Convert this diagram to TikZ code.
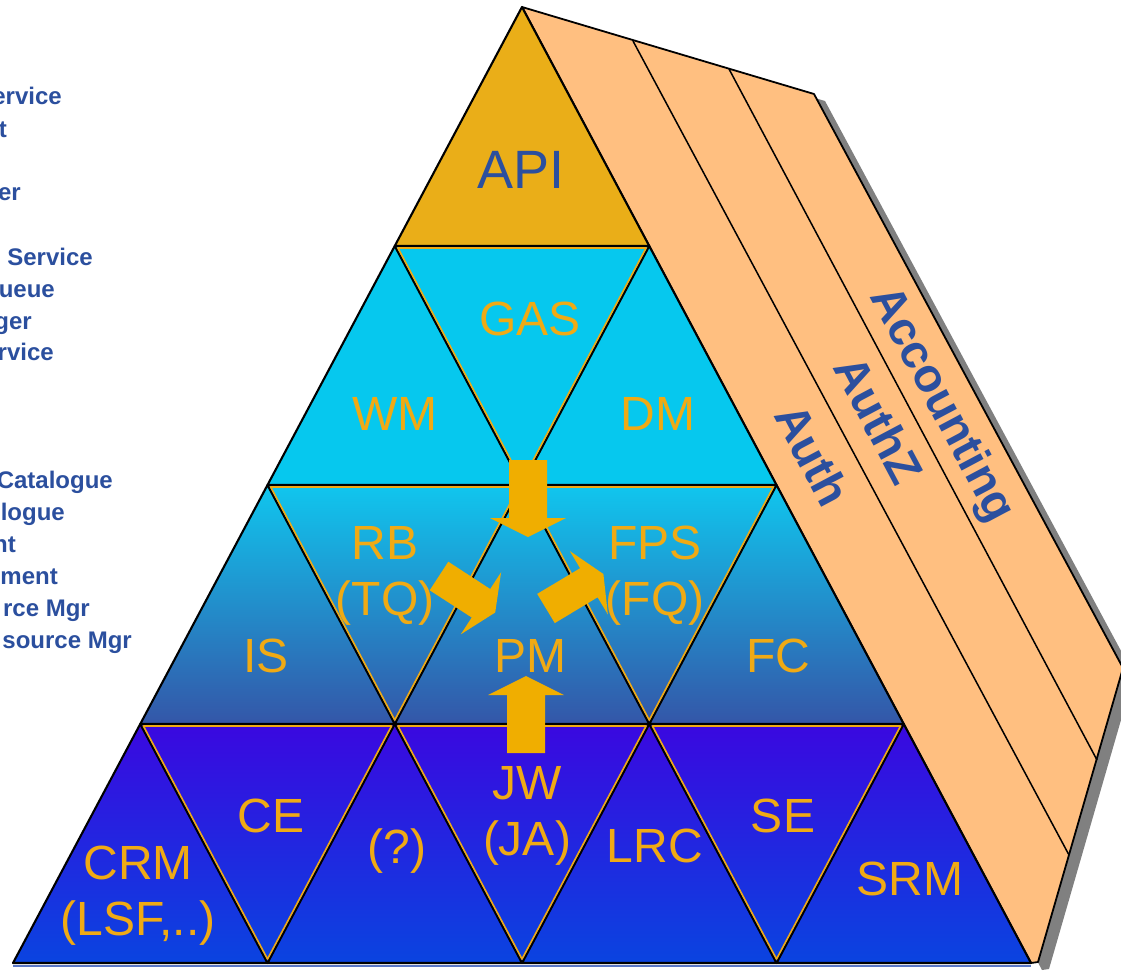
\documentclass[tikz,border=0pt]{standalone}
\usepackage{fontspec}
\setmainfont{Liberation Sans}
\usetikzlibrary{calc}
\definecolor{legblue}{HTML}{2B4F9E}
\definecolor{lblorange}{HTML}{F0AA14}
\definecolor{arroworange}{HTML}{F0AE00}
\definecolor{apifill}{HTML}{EAAE18}
\definecolor{cyanrow}{HTML}{06C8EE}
\definecolor{rowthreetop}{HTML}{10C6EE}
\definecolor{rowthreebot}{HTML}{3456A8}
\definecolor{rowfourtop}{HTML}{3A08E0}
\definecolor{rowfourbot}{HTML}{0A44E0}
\definecolor{peach}{HTML}{FFBF80}
\definecolor{shadowgray}{HTML}{808080}
\definecolor{baseblue}{HTML}{5A78C8}
\begin{document}
\begin{tikzpicture}[x=1pt,y=-1pt,
  lbl/.style={text=lblorange, font=\fontsize{48}{56}\selectfont, align=center, inner sep=0pt},
  lblbase/.style={lbl, anchor=base},
  leg/.style={text=legblue, font=\bfseries\fontsize{24}{28}\selectfont, anchor=base east, inner sep=0pt},
  slabtxt/.style={text=legblue, font=\bfseries\fontsize{47}{50}\selectfont, rotate=-62, inner sep=0pt},
  upedge/.style={draw=black, line width=2.1pt, line join=round},
  downedge/.style={draw=lblorange, line width=1.6pt, line join=round},
  slabedge/.style={draw=black, line width=1.8pt, line join=round},
  blockarrow/.style={fill=arroworange, draw=none},
]
\useasboundingbox (0,0) rectangle (1121,975);
\clip (0,0) rectangle (1121,975);

% grid points of the pyramid
\foreach \k in {0,...,4}{
  \foreach \i in {0,...,\k}{
    \coordinate (v-\k-\i) at ({522+127.25*(2*\i-\k)},{7+239*\k});
  }
}

% side slab: shadow, fill, dividers
\coordinate (s1) at (633,41);
\coordinate (s2) at (729,69);
\coordinate (s3) at (814,94);
\coordinate (s4) at (1123,668);
\coordinate (s5) at (1038,962);
\coordinate (d1) at (1069,855);
\coordinate (d2) at (1097,760);
\fill[shadowgray] ($(v-0-0)+(11,7)$) -- ($(s3)+(11,7)$) -- ($(s4)+(11,7)$) -- ($(s5)+(11,7)$) -- ($(v-4-4)+(11,7)$) -- cycle;
\path[fill=peach, slabedge] (v-0-0) -- (s3) -- (s4) -- (s5) -- (v-4-4) -- cycle;
\draw[slabedge, line width=1.5pt] (s1) -- (d1);
\draw[slabedge, line width=1.5pt] (s2) -- (d2);

\node[slabtxt] (acc) at (941,405) {Accounting};
\node[slabtxt] (authz) at (879,420) {AuthZ};
\node[slabtxt] (auth) at (813,455) {Auth};

% row fills
\fill[apifill] (v-0-0) -- (v-1-0) -- (v-1-1) -- cycle;
\fill[cyanrow] (v-1-0) -- (v-1-1) -- (v-2-2) -- (v-2-0) -- cycle;
\shade[top color=rowthreetop, bottom color=rowthreebot] (v-2-0) -- (v-2-2) -- (v-3-3) -- (v-3-0) -- cycle;
\shade[top color=rowfourtop, bottom color=rowfourbot] (v-3-0) -- (v-3-3) -- (v-4-4) -- (v-4-0) -- cycle;
\draw[baseblue, line width=1.8pt] ($(v-4-0)+(0,2.8)$) -- ($(v-4-4)+(0,2.8)$);

% up triangles: black outlines
\foreach \k [evaluate=\k as \km using int(\k-1)] in {1,...,4}{
  \foreach \i [evaluate=\i as \ip using int(\i+1)] in {0,...,\km}{
    \draw[upedge] (v-\km-\i) -- (v-\k-\i) -- (v-\k-\ip) -- cycle;
  }
}
% down triangles: orange outlines, slightly inset
\foreach \k [evaluate=\k as \km using int(\k-1), evaluate=\k as \kmm using int(\k-2)] in {2,...,4}{
  \foreach \i [evaluate=\i as \ip using int(\i+1)] in {0,...,\kmm}{
    \begin{scope}[scale around={0.975:({522+127.25*(2*\i+2-\k)},{7+239*(\k-1)+239/3})}]
      \draw[downedge] ({522+127.25*(2*\i-\k+1)},{7+239*(\k-1)}) -- ({522+127.25*(2*\i-\k+3)},{7+239*(\k-1)}) -- ({522+127.25*(2*\i+2-\k)},{7+239*\k}) -- cycle;
    \end{scope}
  }
}

% labels
\node[lblbase, text=legblue, font=\fontsize{54}{60}\selectfont] (api) at (521,188) {API};
\node[lblbase] (gas) at (530,335) {GAS};
\node[lblbase] (wm) at (395,430) {WM};
\node[lblbase] (dm) at (658,430) {DM};
\node[lbl] (rb) at (385,576) {RB\\(TQ)};
\node[lbl] (fps) at (655,576) {FPS\\(FQ)};
\node[lblbase] (is) at (266,672) {IS};
\node[lblbase] (pm) at (530,672) {PM};
\node[lblbase] (fc) at (778,672) {FC};
\node[lblbase] (ce) at (271,832) {CE};
\node[lblbase] (se) at (783,832) {SE};
\node[lbl] (jw) at (527,816) {JW\\(JA)};
\node[lbl] (crm) at (138,896) {CRM\\(LSF,..)};
\node[lblbase] (unk) at (397,863) {(?)};
\node[lblbase] (lrc) at (655,862) {LRC};
\node[lblbase] (srm) at (910,895) {SRM};

% block arrows toward PM
\fill[blockarrow] (509,460) -- (547,460) -- (547,518) -- (566,518) -- (528,537) -- (490,518) -- (509,518) -- cycle;
\fill[blockarrow] (507,753) -- (545,753) -- (545,695) -- (564,695) -- (526,676) -- (488,695) -- (507,695) -- cycle;
\fill[blockarrow] (448.3,561.7) -- (490.2,589.0) -- (501.1,572.2) -- (495.2,612.5) -- (460.8,634.3) -- (471.7,617.5) -- (429.7,590.3) -- cycle;
\fill[blockarrow] (537.2,593.9) -- (580.1,568.2) -- (569.8,551.0) -- (603.4,574.0) -- (607.9,614.5) -- (597.6,597.3) -- (554.8,623.1) -- cycle;

% cropped legend on the left
\node[leg] (l1) at (62,104) {ervice};
\node[leg] (l2) at (7,137) {t};
\node[leg] (l3) at (21,200) {er};
\node[leg] (l4) at (93,265) {Service};
\node[leg] (l5) at (55,297) {ueue};
\node[leg] (l6) at (32,329) {ger};
\node[leg] (l7) at (54,360) {rvice};
\node[leg] (l8) at (113,488) {Catalogue};
\node[leg] (l9) at (65,520) {logue};
\node[leg] (l10) at (16,552) {nt};
\node[leg] (l11) at (58,584) {ment};
\node[leg] (l12) at (90,616) {rce Mgr};
\node[leg] (l13) at (132,648) {source Mgr};
\end{tikzpicture}
\end{document}
